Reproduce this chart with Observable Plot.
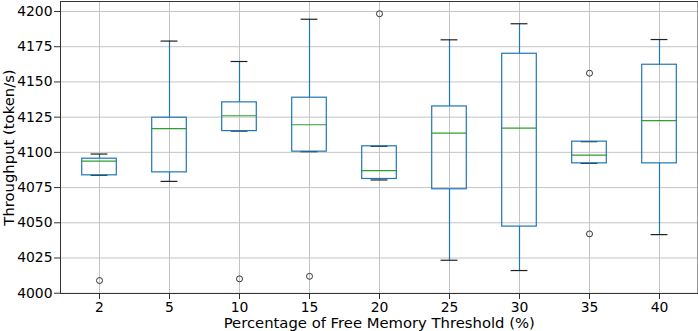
<!DOCTYPE html>
<html>
<head>
<meta charset="utf-8">
<script src="https://cdn.jsdelivr.net/npm/d3@7"></script>
<script src="https://cdn.jsdelivr.net/npm/@observablehq/plot@0.6"></script>
<style>
  html, body { margin: 0; padding: 0; background: #fff; }
  svg { display: block; }
</style>
</head>
<body>
<div id="chart"></div>
<script>
// Categories (Percentage of Free Memory Threshold)
const categories = ["2", "5", "10", "15", "20", "25", "30", "35", "40"];
// Box statistics (token/s)
const whiskerLow  = [4083.7, 4079.4, 4115.1, 4100.5, 4080.4, 4023.4, 4016.1, 4092.2, 4041.6];
const q1          = [4083.7, 4085.8, 4115.1, 4100.5, 4081.1, 4073.8, 4047.3, 4092.2, 4092.2];
const medians     = [4093.8, 4116.8, 4126.0, 4119.6, 4087.0, 4113.7, 4117.2, 4098.1, 4122.5];
const q3          = [4095.5, 4124.6, 4135.5, 4138.8, 4104.3, 4132.6, 4170.0, 4107.6, 4162.2];
const whiskerHigh = [4098.8, 4179.0, 4164.5, 4194.5, 4104.3, 4179.9, 4191.3, 4107.6, 4180.1];
// Outliers
const outlierCategory = ["2", "10", "15", "20", "35", "35"];
const outlierValue    = [4009.0, 4010.2, 4012.0, 4198.4, 4156.2, 4042.1];
// Y tick values
const yTicks = [4000, 4025, 4050, 4075, 4100, 4125, 4150, 4175, 4200];

const boxes = categories.map((c, i) => ({
  cat: c, lo: whiskerLow[i], q1: q1[i], med: medians[i], q3: q3[i], hi: whiskerHigh[i]
}));
const outliers = outlierCategory.map((c, i) => ({cat: c, v: outlierValue[i]}));

const width = 698, height = 331;
const marginLeft = 60, marginRight = 0.5, marginTop = 1, marginBottom = 38;
const band = (width - marginLeft - marginRight) / categories.length;
const boxInset = band / 4;
const capInset = band * 3 / 8;

const blue = "#1f77b4", green = "#2ca02c";
const gridColor = "#c4c4c4";
const labelSize = 14.8;

const chart = Plot.plot({
  width, height, marginLeft, marginRight, marginTop, marginBottom,
  style: {fontFamily: "'DejaVu Sans', sans-serif", fontSize: "13.9px", color: "#000", background: "#fff"},
  x: {type: "band", domain: categories, padding: 0, label: null},
  y: {domain: [3999.8, 4207.1], label: null},
  marks: [
    Plot.gridY(yTicks, {stroke: gridColor, strokeOpacity: 1, strokeWidth: 1}),
    Plot.gridX(categories, {stroke: gridColor, strokeOpacity: 1, strokeWidth: 1}),
    // whiskers
    Plot.ruleX(boxes, {x: "cat", y1: "q3", y2: "hi", stroke: blue, strokeWidth: 1.2}),
    Plot.ruleX(boxes, {x: "cat", y1: "lo", y2: "q1", stroke: blue, strokeWidth: 1.2}),
    // caps
    Plot.tickY(boxes, {x: "cat", y: "hi", stroke: "#222", strokeWidth: 1.2, insetLeft: capInset, insetRight: capInset}),
    Plot.tickY(boxes, {x: "cat", y: "lo", stroke: "#222", strokeWidth: 1.2, insetLeft: capInset, insetRight: capInset}),
    // boxes
    Plot.barY(boxes, {x: "cat", y1: "q1", y2: "q3", fill: "none", stroke: blue, strokeWidth: 1.2, insetLeft: boxInset, insetRight: boxInset}),
    // medians
    Plot.tickY(boxes, {x: "cat", y: "med", stroke: green, strokeWidth: 1.2, insetLeft: boxInset, insetRight: boxInset}),
    // outliers
    Plot.dot(outliers, {x: "cat", y: "v", r: 3, stroke: "#333", fill: "none", strokeWidth: 1}),
    Plot.frame({stroke: "#333", strokeWidth: 1}),
    Plot.axisY(yTicks, {tickSize: 6, tickPadding: 2, label: null, stroke: "#333", tickFormat: d => String(d)}),
    Plot.axisX({tickSize: 6, tickPadding: 3, label: null, stroke: "#333"}),
    Plot.text(["Throughput (token/s)"], {frameAnchor: "left", rotate: -90, textAnchor: "middle", lineAnchor: "middle", dx: -51.5, fontSize: labelSize, fill: "#000"}),
    Plot.text(["Percentage of Free Memory Threshold (%)"], {frameAnchor: "bottom", textAnchor: "middle", lineAnchor: "middle", dy: 30, fontSize: labelSize, fill: "#000"})
  ]
});
document.getElementById("chart").appendChild(chart);
</script>
</body>
</html>
